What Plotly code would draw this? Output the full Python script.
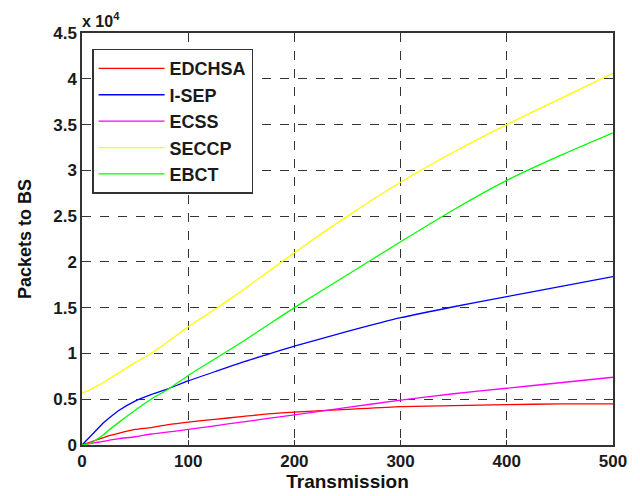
import plotly.graph_objects as go

# Transmission rounds
x_vals = [0, 5, 10, 15, 20, 25, 35, 50, 65, 80, 100, 125, 150, 175, 200, 250, 300, 350, 400, 450, 500]

# Packets to BS (in units of 10^4)
edchsa = [0, 0.02, 0.04, 0.06, 0.08, 0.10, 0.13, 0.17, 0.19, 0.22, 0.25, 0.28, 0.31, 0.34, 0.36, 0.39, 0.42, 0.43, 0.44, 0.45, 0.45]
isep = [0, 0.06, 0.12, 0.18, 0.24, 0.29, 0.38, 0.48, 0.55, 0.61, 0.70, 0.80, 0.90, 0.99, 1.08, 1.24, 1.39, 1.51, 1.62, 1.73, 1.84]
ecss = [0, 0.01, 0.02, 0.03, 0.04, 0.05, 0.07, 0.09, 0.12, 0.14, 0.17, 0.21, 0.25, 0.29, 0.33, 0.41, 0.49, 0.56, 0.62, 0.68, 0.74]
seccp = [0.57, 0.59, 0.62, 0.65, 0.68, 0.72, 0.79, 0.90, 1.00, 1.12, 1.29, 1.48, 1.68, 1.89, 2.10, 2.50, 2.87, 3.20, 3.50, 3.78, 4.06]
ebct = [0, 0.01, 0.03, 0.07, 0.11, 0.16, 0.25, 0.38, 0.50, 0.60, 0.76, 0.94, 1.12, 1.31, 1.50, 1.86, 2.22, 2.57, 2.89, 3.16, 3.41]

series_names = ["EDCHSA", "I-SEP", "ECSS", "SECCP", "EBCT"]
series_vals = [edchsa, isep, ecss, seccp, ebct]
series_colors = ["#ff0000", "#0000ff", "#ff00ff", "#ffff00", "#00ff00"]

x_ticks = [0, 100, 200, 300, 400, 500]
y_ticks = [0, 0.5, 1, 1.5, 2, 2.5, 3, 3.5, 4, 4.5]
y_tick_text = ["0", "0.5", "1", "1.5", "2", "2.5", "3", "3.5", "4", "4.5"]

font_family = "Liberation Sans, Arial, sans-serif"

fig = go.Figure()
for i, (name, vals, col) in enumerate(zip(series_names, series_vals, series_colors)):
    fig.add_trace(go.Scatter(
        x=x_vals, y=vals, mode="lines", name=name,
        line=dict(color=col, width=1.3, shape="spline", smoothing=0.6),
        legendgroup=f"g{i}",
    ))

axis_common = dict(
    showline=True, linecolor="#333333", linewidth=1.5, mirror="ticks",
    ticks="inside", ticklen=5, tickcolor="#333333",
    showgrid=True, gridcolor="#333333", griddash="dash", gridwidth=1,
    zeroline=False,
    tickfont=dict(family=font_family, size=17, color="#1a1a1a", weight="bold"),
)

fig.update_xaxes(
    range=[0, 500], tickvals=x_ticks,
    title=dict(text="<b>Transmission</b>", font=dict(family=font_family, size=19, color="#111"), standoff=0),
    **axis_common,
)
fig.update_yaxes(
    range=[0, 4.5], tickvals=y_ticks, ticktext=y_tick_text,
    title=dict(text="<b>Packets to BS</b>", font=dict(family=font_family, size=18, color="#111"), standoff=17),
    **axis_common,
)

fig.add_annotation(
    x=0, y=1, xref="paper", yref="paper", xanchor="left", yanchor="bottom",
    text="<b>x 10<sup>4</sup></b>", showarrow=False, yshift=1, xshift=-2,
    font=dict(family=font_family, size=16, color="#1a1a1a"),
)

fig.update_layout(
    width=632, height=488,
    margin=dict(l=74, r=27, t=25, b=48),
    paper_bgcolor="white", plot_bgcolor="white",
    showlegend=True,
    legend=dict(
        x=0.019, y=0.962, xanchor="left", yanchor="top",
        bgcolor="white", bordercolor="#333333", borderwidth=1.5,
        font=dict(family=font_family, size=18, color="#1a1a1a", weight="bold"),
        tracegroupgap=0, itemwidth=66,
    ),
)

fig.write_html("out.html")
